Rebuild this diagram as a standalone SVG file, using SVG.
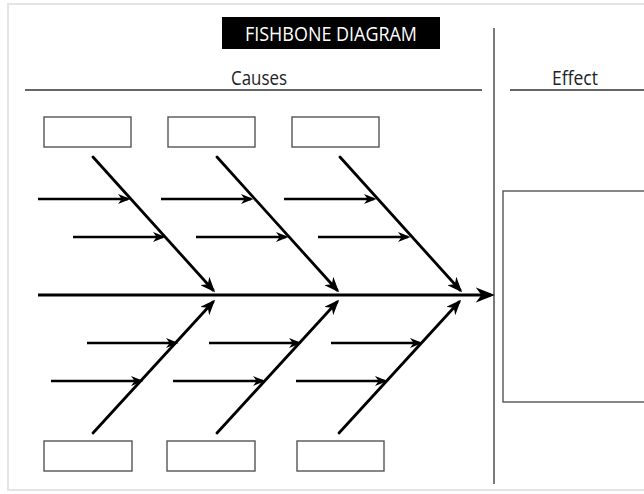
<svg xmlns="http://www.w3.org/2000/svg" width="644" height="494" viewBox="0 0 644 494">
  <style>
    .frame { fill: #ffffff; stroke: #e4e4e4; stroke-width: 2; }
    .rule { stroke: #333333; stroke-width: 1.3; fill: none; }
    .box { fill: #ffffff; stroke: #555555; stroke-width: 1.4; }
    .bone { stroke: #000000; stroke-width: 2.8; fill: none; stroke-linecap: round; marker-end: url(#head); }
    .sub { stroke: #000000; stroke-width: 2.3; fill: none; marker-end: url(#head); }
    .spine { stroke: #000000; stroke-width: 3.2; fill: none; marker-end: url(#bighead); }
    .label { font-family: "Open Sans", "Liberation Sans", sans-serif; font-size: 20px; fill: #222222; text-anchor: middle; }
    .title { font-family: "Open Sans", "Liberation Sans", sans-serif; font-size: 20px; fill: #ffffff; text-anchor: middle; }
  </style>
  <defs>
    <marker id="head" viewBox="0 0 10 8" refX="8" refY="4" markerWidth="5.5" markerHeight="4.4" markerUnits="strokeWidth" orient="auto">
      <path d="M0,0 L10,4 L0,8 L3,4 z" fill="#000000"/>
    </marker>
    <marker id="bighead" viewBox="0 0 10 8" refX="8" refY="4" markerWidth="6" markerHeight="4.8" markerUnits="strokeWidth" orient="auto">
      <path d="M0,0 L10,4 L0,8 L3,4 z" fill="#000000"/>
    </marker>
  </defs>

  <!-- page frame -->
  <rect class="frame" x="8" y="4" width="650" height="486"/>

  <!-- header -->
  <g id="title">
    <rect x="222" y="17" width="218" height="32" fill="#000000"/>
    <text class="title" x="331" y="41" textLength="172" lengthAdjust="spacingAndGlyphs">FISHBONE DIAGRAM</text>
  </g>
  <g id="causes-header">
    <text class="label" x="259" y="85" textLength="56" lengthAdjust="spacingAndGlyphs">Causes</text>
    <line class="rule" x1="25" y1="90" x2="482" y2="90"/>
  </g>
  <g id="effect-header">
    <text class="label" x="575" y="85" textLength="46" lengthAdjust="spacingAndGlyphs">Effect</text>
    <line class="rule" x1="510" y1="90" x2="644" y2="90"/>
  </g>
  <line class="rule" x1="494" y1="28" x2="494" y2="484"/>

  <!-- cause boxes -->
  <g id="cause-top-1"><rect class="box" x="44" y="117" width="87" height="30"/></g>
  <g id="cause-top-2"><rect class="box" x="168" y="117" width="87" height="30"/></g>
  <g id="cause-top-3"><rect class="box" x="292" y="117" width="87" height="30"/></g>
  <g id="cause-bottom-1"><rect class="box" x="44" y="441" width="88" height="30"/></g>
  <g id="cause-bottom-2"><rect class="box" x="167" y="441" width="88" height="30"/></g>
  <g id="cause-bottom-3"><rect class="box" x="297" y="441" width="87" height="30"/></g>

  <!-- effect box -->
  <g id="effect"><rect class="box" x="503" y="191" width="150" height="211"/></g>

  <!-- connectors -->
  <g id="connectors">
    <!-- spine -->
    <line class="spine" x1="38" y1="295" x2="491" y2="295"/>

    <!-- upper bones -->
    <line class="bone" x1="93" y1="157" x2="213" y2="290"/>
    <line class="bone" x1="217" y1="157" x2="337" y2="290"/>
    <line class="bone" x1="340" y1="157" x2="460" y2="290"/>

    <!-- lower bones -->
    <line class="bone" x1="93" y1="433" x2="213" y2="302"/>
    <line class="bone" x1="217" y1="433" x2="337" y2="302"/>
    <line class="bone" x1="339" y1="433" x2="459" y2="302"/>

    <!-- upper sub-causes -->
    <line class="sub" x1="38" y1="199" x2="128" y2="199"/>
    <line class="sub" x1="73" y1="237" x2="163" y2="237"/>
    <line class="sub" x1="161" y1="199" x2="251" y2="199"/>
    <line class="sub" x1="196" y1="237" x2="286" y2="237"/>
    <line class="sub" x1="284" y1="199" x2="374" y2="199"/>
    <line class="sub" x1="318" y1="237" x2="408" y2="237"/>

    <!-- lower sub-causes -->
    <line class="sub" x1="87" y1="343" x2="176" y2="343"/>
    <line class="sub" x1="51" y1="381" x2="141" y2="381"/>
    <line class="sub" x1="209" y1="343" x2="299" y2="343"/>
    <line class="sub" x1="173" y1="381" x2="263" y2="381"/>
    <line class="sub" x1="331" y1="343" x2="420" y2="343"/>
    <line class="sub" x1="296" y1="381" x2="385" y2="381"/>
  </g>
</svg>
